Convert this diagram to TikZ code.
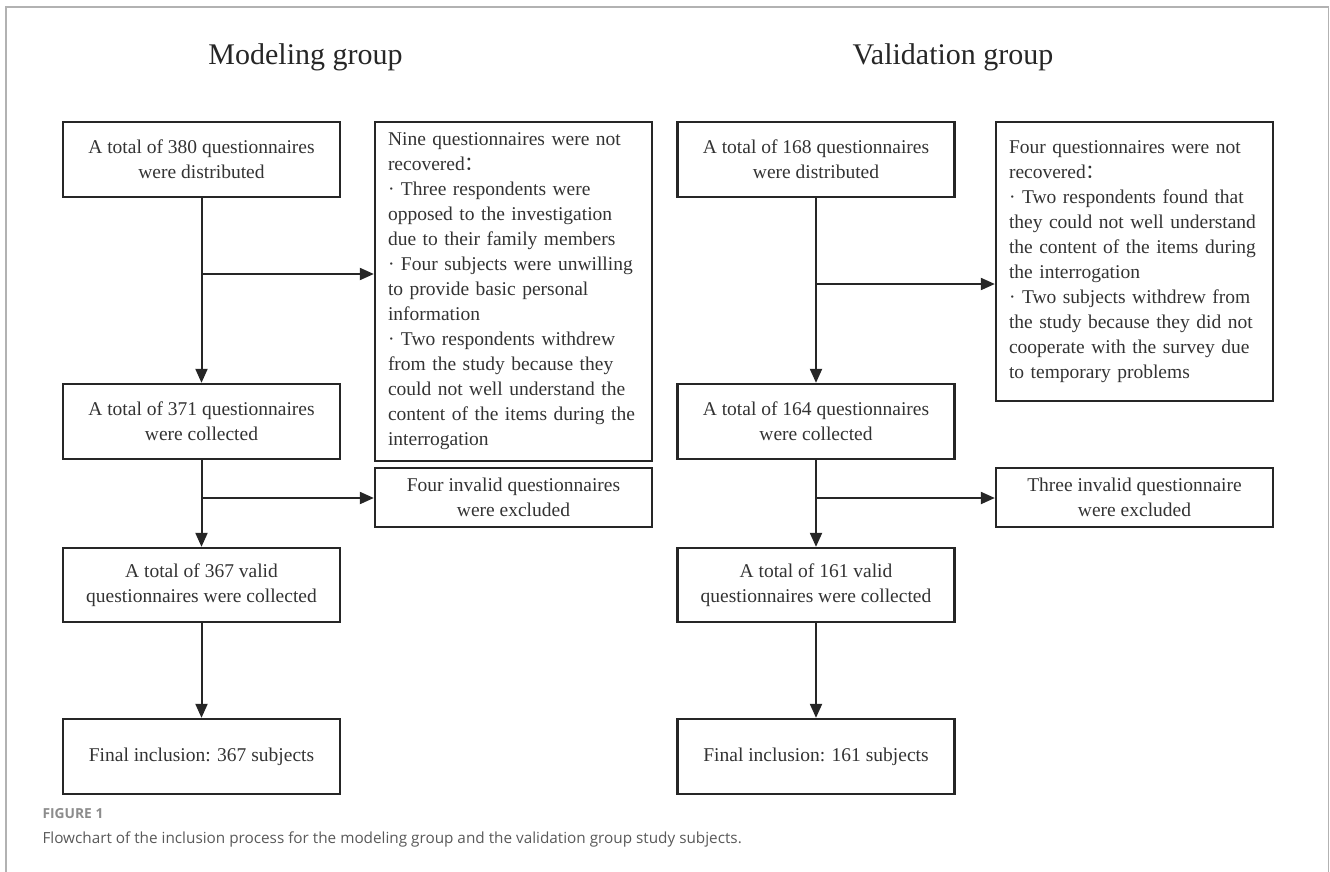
\documentclass[tikz,border=0pt]{standalone}
\usepackage{fontspec}
\setmainfont{Liberation Serif}
\newfontfamily\capfont{Open Sans}
\newfontfamily\cjk{Noto Sans CJK SC}
\usetikzlibrary{arrows.meta}

\tikzset{
  box/.style={draw=black!85, line width=2.3pt, text=black!80, minimum width=277pt,
    align=center, inner sep=0pt, font=\fontsize{19.5}{25}\selectfont},
  notebox/.style={box, align=left, text width=251pt, inner xsep=13pt},
  arr/.style={draw=black!85, line width=2pt, -{Triangle[length=14pt,width=12pt]}},
  title/.style={text=black!85, font=\fontsize{30}{36}\selectfont}
}

\begin{document}
\begin{tikzpicture}[x=1pt, y=-1pt]
  \useasboundingbox (0,0) rectangle (1330,872);
  \draw[black!30, line width=1.5pt] (6,872) -- (6,7) -- (1328.5,7) -- (1328.5,872);

  \node[title] (mtitle) at (305.5,57) {Modeling group};
  \node[title] (vtitle) at (953,57) {Validation group};

  \node[box, minimum height=75pt] (m1) at (201.5,159.5) {A total of 380 questionnaires\\were distributed};
  \node[box, minimum height=75pt] (m2) at (201.5,421.5) {A total of 371 questionnaires\\were collected};
  \node[box, minimum height=74pt] (m3) at (201.5,585) {A total of 367 valid\\questionnaires were collected};
  \node[box, minimum height=75pt] (m4) at (201.5,756.5) {Final inclusion: 367 subjects};
  \node[notebox, minimum height=339pt] (mx1) at (513.5,291.5) {Nine questionnaires were not\\recovered{\cjk：}\\
    {\textperiodcentered} Three respondents were\\opposed to the investigation\\due to their family members\\
    {\textperiodcentered} Four subjects were unwilling\\to provide basic personal\\information\\
    {\textperiodcentered} Two respondents withdrew\\from the study because they\\could not well understand the\\content of the items during the\\interrogation};
  \node[box, minimum height=59pt] (mx2) at (513.5,497.5) {Four invalid questionnaires\\were excluded};

  \node[box, minimum height=75pt] (v1) at (816,159.5) {A total of 168 questionnaires\\were distributed};
  \node[box, minimum height=75pt] (v2) at (816,421.5) {A total of 164 questionnaires\\were collected};
  \node[box, minimum height=74pt] (v3) at (816,585) {A total of 161 valid\\questionnaires were collected};
  \node[box, minimum height=75pt] (v4) at (816,756.5) {Final inclusion: 161 subjects};
  \node[notebox, minimum height=279pt] (vx1) at (1134.5,261.5) {Four questionnaires were not\\recovered{\cjk：}\\
    {\textperiodcentered} Two respondents found that\\they could not well understand\\the content of the items during\\the interrogation\\
    {\textperiodcentered} Two subjects withdrew from\\the study because they did not\\cooperate with the survey due\\to temporary problems};
  \node[box, minimum height=59pt] (vx2) at (1134.5,497.5) {Three invalid questionnaire\\were excluded};

  \coordinate (mj1) at (201.5,274);
  \coordinate (mj2) at (201.5,498);
  \coordinate (vj1) at (816,284);
  \coordinate (vj2) at (816,498);

  \draw[arr] (m1) -- (m2);
  \draw[arr] (m2) -- (m3);
  \draw[arr] (m3) -- (m4);
  \draw[arr] (mj1) -- (mj1 -| mx1.west);
  \draw[arr] (mj2) -- (mj2 -| mx2.west);
  \draw[arr] (v1) -- (v2);
  \draw[arr] (v2) -- (v3);
  \draw[arr] (v3) -- (v4);
  \draw[arr] (vj1) -- (vj1 -| vx1.west);
  \draw[arr] (vj2) -- (vj2 -| vx2.west);

  \node[anchor=base west, text=black!45, font=\capfont\bfseries\fontsize{13.8}{16}\selectfont] (fig) at (39,818) {FIGURE 1};
  \node[anchor=base west, text=black!65, font=\capfont\fontsize{15.3}{18}\selectfont] (cap) at (39,843) {Flowchart of the inclusion process for the modeling group and the validation group study subjects.};
\end{tikzpicture}
\end{document}
